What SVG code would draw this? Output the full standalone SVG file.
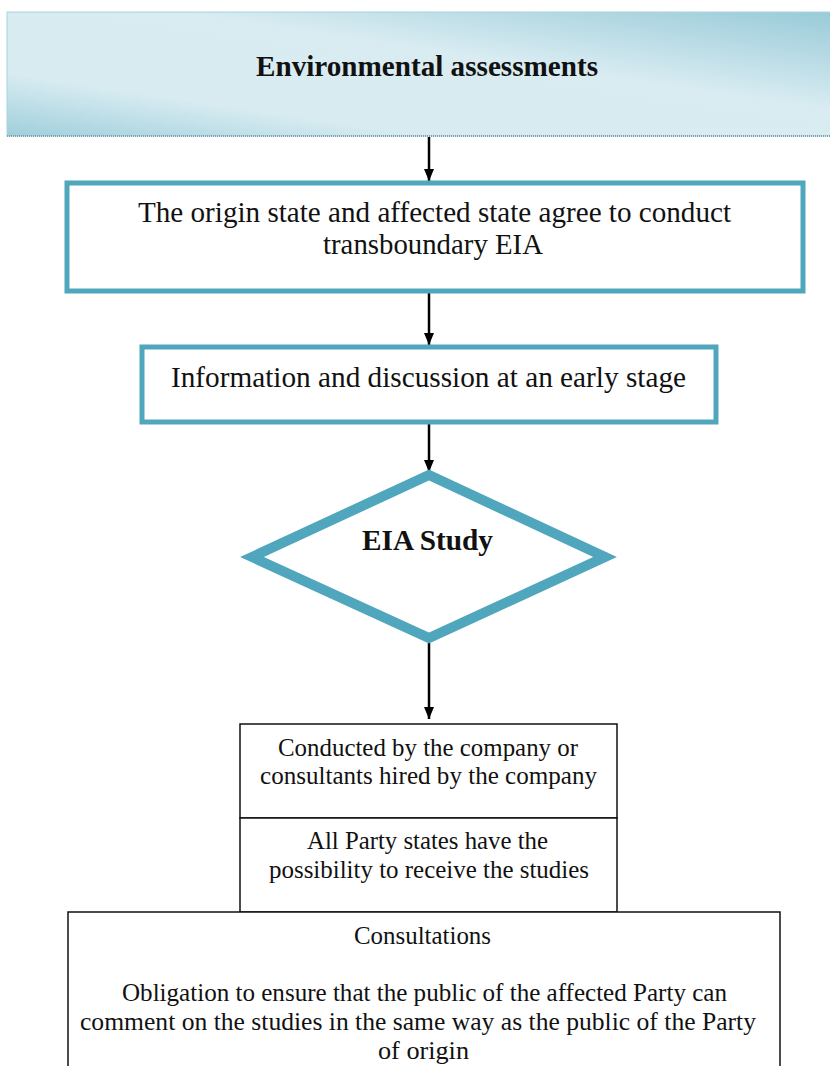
<svg xmlns="http://www.w3.org/2000/svg" width="830" height="1066" viewBox="0 0 830 1066">
<style>
.t{font-family:"Liberation Serif","Times New Roman",serif;fill:#111;text-anchor:middle}
.b{font-weight:bold}
.teal{fill:#fff;stroke:#4fa6bd;stroke-width:5}
.thin{fill:#fff;stroke:#111;stroke-width:1.5}
.conn line{stroke:#000;stroke-width:2.5}
</style>
<defs>
<linearGradient id="hg" x1="0" y1="1" x2="1" y2="0">
<stop offset="0" stop-color="#9fcfdc"/>
<stop offset="0.25" stop-color="#d7ebf1"/>
<stop offset="0.6" stop-color="#d9ecf2"/>
<stop offset="1" stop-color="#98cad8"/>
</linearGradient>
<marker id="arr" markerWidth="12" markerHeight="11" refX="12" refY="5.5" orient="auto" markerUnits="userSpaceOnUse">
<path d="M0,0.5 L12,5.5 L0,10.5 Z" fill="#000"/>
</marker>
</defs>
<g id="header">
<rect x="7" y="12" width="830" height="124" fill="url(#hg)" stroke="#a8d3de" stroke-width="1"/>
<line x1="7" y1="136" x2="830" y2="136" stroke="#6a8f9a" stroke-width="1.5" stroke-dasharray="1,1"/>
<text class="t b" x="427" y="76" font-size="29" textLength="342" lengthAdjust="spacingAndGlyphs">Environmental assessments</text>
</g>
<g class="conn" id="connectors">
<line x1="429" y1="137" x2="429" y2="181" marker-end="url(#arr)"/>
<line x1="429" y1="293" x2="429" y2="345" marker-end="url(#arr)"/>
<line x1="429" y1="424" x2="429" y2="472" marker-end="url(#arr)"/>
<line x1="429" y1="643" x2="429" y2="719" marker-end="url(#arr)"/>
</g>
<g id="agree">
<rect class="teal" x="67" y="183" width="736" height="108"/>
<text class="t" x="434.5" y="222" font-size="29" textLength="593" lengthAdjust="spacingAndGlyphs">The origin state and affected state agree to conduct</text>
<text class="t" x="433" y="254" font-size="29" textLength="220" lengthAdjust="spacingAndGlyphs">transboundary EIA</text>
</g>
<g id="info">
<rect class="teal" x="142" y="347" width="574" height="75"/>
<text class="t" x="428.5" y="387" font-size="29" textLength="515" lengthAdjust="spacingAndGlyphs">Information and discussion at an early stage</text>
</g>
<g id="study">
<polygon points="429,475 605,557 429,638 252,557" fill="#fff" stroke="#4fa6bd" stroke-width="10" stroke-linejoin="miter"/>
<text class="t b" x="427.5" y="550" font-size="29" textLength="131" lengthAdjust="spacingAndGlyphs">EIA Study</text>
</g>
<g id="conducted">
<rect class="thin" x="240" y="724" width="377" height="94"/>
<text class="t" x="428" y="756" font-size="25" textLength="300" lengthAdjust="spacingAndGlyphs">Conducted by the company or</text>
<text class="t" x="428.5" y="784" font-size="25" textLength="337" lengthAdjust="spacingAndGlyphs">consultants hired by the company</text>
</g>
<g id="receive">
<rect class="thin" x="240" y="818" width="377" height="94"/>
<text class="t" x="427.5" y="849" font-size="25" textLength="241" lengthAdjust="spacingAndGlyphs">All Party states have the</text>
<text class="t" x="429" y="878" font-size="25" textLength="320" lengthAdjust="spacingAndGlyphs">possibility to receive the studies</text>
</g>
<g id="consultations">
<rect class="thin" x="68" y="912" width="712" height="170"/>
<text class="t" x="422.5" y="944" font-size="25" textLength="137" lengthAdjust="spacingAndGlyphs">Consultations</text>
<text class="t" x="424.5" y="1001" font-size="25" textLength="605" lengthAdjust="spacingAndGlyphs">Obligation to ensure that the public of the affected Party can</text>
<text class="t" x="418" y="1030" font-size="25" textLength="676" lengthAdjust="spacingAndGlyphs">comment on the studies in the same way as the public of the Party</text>
<text class="t" x="423.5" y="1059" font-size="25" textLength="91" lengthAdjust="spacingAndGlyphs">of origin</text>
</g>
</svg>
